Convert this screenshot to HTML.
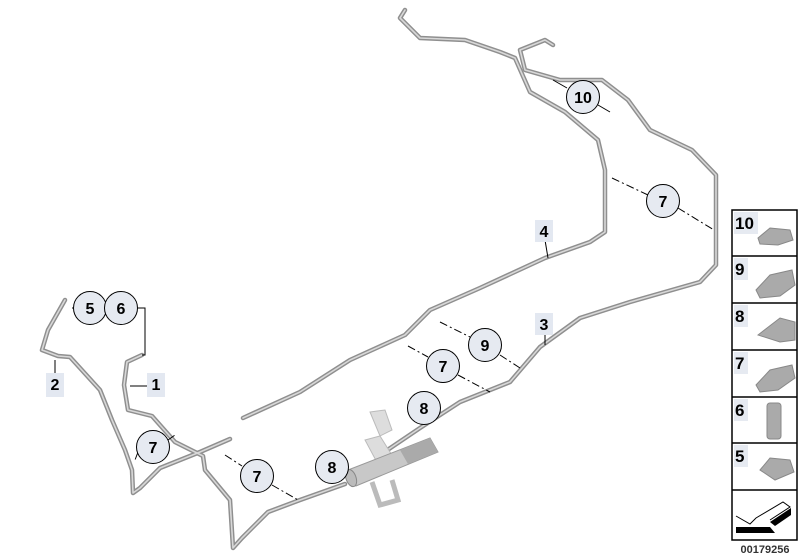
<!DOCTYPE html>
<html><head><style>
body{margin:0;background:#fff;width:800px;height:560px;overflow:hidden}
svg{display:block}
text{font-family:"Liberation Sans",Arial,sans-serif;font-weight:bold}
</style></head><body>
<svg width="800" height="560" viewBox="0 0 800 560">
<g fill="none" stroke-linecap="round" stroke-linejoin="round">
<g stroke="#8f8f8f" stroke-width="4.5">
<path id="p4" d="M405,10 L400,18 L420,38 L465,40 L500,52 L515,58 L530,92 L565,112 L598,140 L605,170 L605,232 L590,242 L545,258 L480,288 L430,310 L405,335 L350,360 L300,392 L243,418"/>
<path id="p3" d="M553,45 L545,40 L520,50 L525,70 L560,80 L602,80 L628,100 L650,130 L692,150 L716,175 L716,265 L700,282 L630,302 L580,318 L540,347 L510,382 L460,402 L420,428 L380,455"/>
<path id="p2" d="M65,300 L48,330 L42,350 L58,356 L70,357 L100,390 L112,420 L125,450 L132,470 L133,493 L140,488 L160,468 L200,452 L230,439"/>
<path id="p1" d="M142,355 L127,362 L124,385 L128,410 L152,416 L175,442 L203,456 L205,470 L230,500 L233,548 L242,538 L268,512 L300,500 L345,484"/>
</g>
<g stroke="#d8d8d8" stroke-width="1.6">
<use href="#p4"/><use href="#p3"/><use href="#p2"/><use href="#p1"/>
</g>
</g>
<!-- heater -->
<g>
<path d="M370,412 L385,410 L392,430 L380,436 Z" fill="#ddd" stroke="#bbb"/>
<path d="M365,440 L380,436 L395,460 L380,468 Z" fill="#ddd" stroke="#bbb"/>
<path d="M372,482 L380,505 L398,500 L392,480" fill="none" stroke="#bbb" stroke-width="5"/>
<path d="M348,470 L430,438 L438,452 L356,486 Z" fill="#c8c8c8" stroke="#999"/>
<path d="M400,450 L430,438 L438,452 L408,464 Z" fill="#aaa"/>
<ellipse cx="351" cy="478" rx="5" ry="9" fill="#bbb" stroke="#888" transform="rotate(-20 351 478)"/>
</g>
<!-- leaders -->
<g stroke="#000" stroke-width="1" fill="none">
<path d="M548,258 L545,240"/><path d="M545,345 L545,333"/>
<path d="M55,360 L55,373"/><path d="M130,386 L147,386"/>
<path d="M72,308 L75,308"/><path d="M138,308 L145,308 L145,355 L142,355"/>
<path d="M567,88 L553,80"/><path d="M598,105 L610,112"/>
<g stroke-dasharray="8,3,2,3">
<path d="M612,178 L648,195"/><path d="M678,208 L714,230"/>
<path d="M440,322 L470,337"/><path d="M500,355 L520,368"/>
<path d="M408,346 L428,357"/><path d="M458,375 L490,392"/>
<path d="M225,455 L242,466"/><path d="M272,485 L298,500"/>
<path d="M138,452 L135,460"/><path d="M168,440 L175,435"/>
</g>
</g>
<!-- circles -->
<g stroke="#000" stroke-width="1" fill="#e6eaf1">
<circle cx="583" cy="97" r="16.5"/><circle cx="663" cy="201" r="16.5"/>
<circle cx="485" cy="345" r="16.5"/><circle cx="443" cy="366" r="16.5"/>
<circle cx="424" cy="408" r="16.5"/><circle cx="332" cy="467" r="16.5"/>
<circle cx="257" cy="476" r="16.5"/><circle cx="153" cy="447" r="16.5"/>
<circle cx="90" cy="308" r="16.5"/><circle cx="121" cy="308" r="16.5"/>
</g>
<g font-size="16" text-anchor="middle" fill="#000">
<text x="583" y="103">10</text><text x="663" y="207">7</text>
<text x="485" y="351">9</text><text x="443" y="372">7</text>
<text x="424" y="414">8</text><text x="332" y="473">8</text>
<text x="257" y="482">7</text><text x="153" y="453">7</text>
<text x="90" y="314">5</text><text x="121" y="314">6</text>
</g>
<g fill="#e3e8f1">
<rect x="535" y="220" width="18" height="22"/><rect x="535" y="313" width="18" height="22"/>
<rect x="147" y="373" width="18" height="24"/><rect x="46" y="373" width="18" height="24"/>
</g>
<g font-size="16" text-anchor="middle">
<text x="544" y="237">4</text><text x="544" y="330">3</text>
<text x="156" y="390">1</text><text x="55" y="390">2</text>
</g>
<!-- legend -->
<rect x="732" y="210" width="65" height="330" stroke="#000" stroke-width="1.5" fill="#fff"/>
<g stroke="#000" stroke-width="1.5">
<line x1="732" y1="256" x2="797" y2="256"/><line x1="732" y1="303" x2="797" y2="303"/>
<line x1="732" y1="350" x2="797" y2="350"/><line x1="732" y1="397" x2="797" y2="397"/>
<line x1="732" y1="443" x2="797" y2="443"/><line x1="732" y1="490" x2="797" y2="490"/>
</g>
<g fill="#e6eaf1">
<rect x="734" y="212" width="24" height="22"/><rect x="734" y="258" width="14" height="22"/>
<rect x="734" y="305" width="14" height="22"/><rect x="734" y="352" width="14" height="22"/>
<rect x="734" y="399" width="14" height="22"/><rect x="734" y="445" width="14" height="22"/>
</g>
<g font-size="17">
<text x="735" y="229">10</text><text x="735" y="275">9</text><text x="735" y="322">8</text>
<text x="735" y="369">7</text><text x="735" y="416">6</text><text x="735" y="462">5</text>
</g>
<g fill="#aaa" stroke="#888">
<path d="M758,238 L770,228 L790,230 L793,240 L778,245 L760,244 Z"/>
<path d="M756,290 L770,275 L792,270 L795,285 L780,296 L760,298 Z"/>
<path d="M758,335 L780,318 L795,322 L795,340 L780,342 Z"/>
<path d="M756,385 L770,370 L792,365 L795,378 L778,390 L760,392 Z"/>
<rect x="767" y="403" width="14" height="36" rx="3"/>
<path d="M760,470 L770,458 L790,460 L794,472 L775,480 Z"/>
</g>
<g fill="none" stroke="#000" stroke-width="1">
<path d="M736,516 L750,524 L756,518 L783,502 L790,507 L770,520"/>
</g>
<path d="M736,527 L770,527 L775,533 L736,533 Z" fill="#000"/>
<path d="M770,522 L791,508 L791,515 L775,526 Z" fill="#000"/>
<text x="765" y="553" font-size="11" font-weight="normal" text-anchor="middle" fill="#333">00179256</text>
</svg>
</body></html>
